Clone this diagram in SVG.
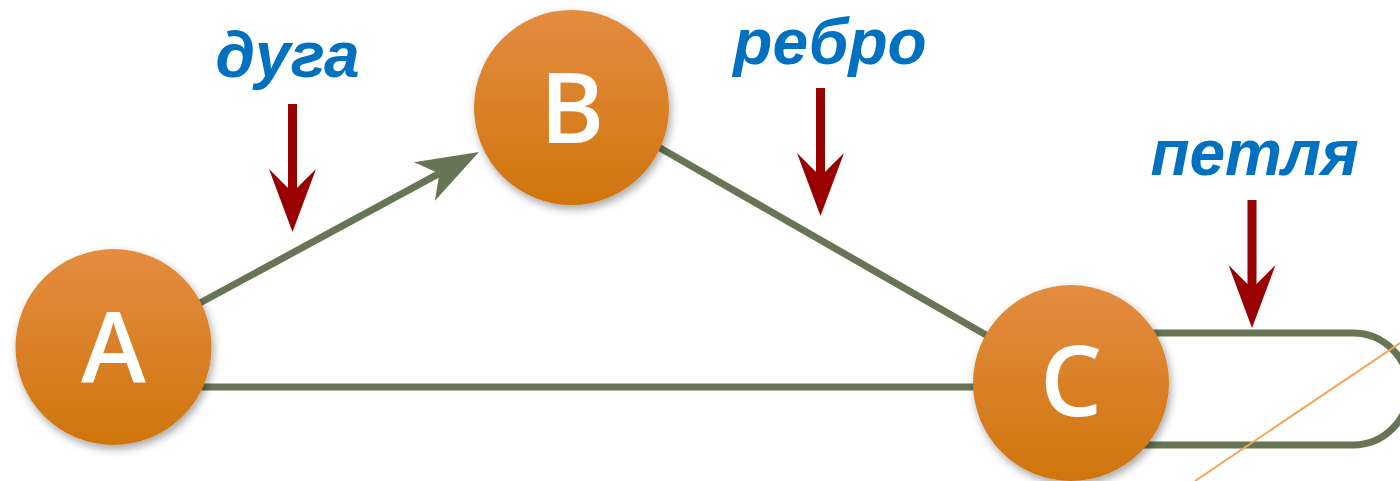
<svg xmlns="http://www.w3.org/2000/svg" width="1400" height="481" viewBox="0 0 1400 481">
  <style>
    .edge { fill: none; stroke: #667553; stroke-width: 7; }
    .node-c { fill: url(#orangeGrad); filter: url(#shadow); }
    .node-t { font-family: "Open Sans", "Liberation Sans", sans-serif; font-weight: 600; font-size: 98px; fill: #ffffff; text-anchor: middle; }
    .lbl { font-family: "Liberation Sans", Arial, sans-serif; font-weight: bold; font-style: italic; font-size: 64px; fill: #0070c0; text-anchor: middle; }
    .red { fill: #990000; }
  </style>
  <defs>
    <linearGradient id="orangeGrad" x1="0" y1="0" x2="0" y2="1">
      <stop offset="0" stop-color="#e48c40"/>
      <stop offset="1" stop-color="#cf750e"/>
    </linearGradient>
    <filter id="shadow" x="-20%" y="-20%" width="150%" height="150%">
      <feDropShadow dx="2" dy="4" stdDeviation="4" flood-color="#000" flood-opacity="0.35"/>
    </filter>
    <marker id="arrowG" viewBox="0 -22 62 44" refX="17" refY="0" markerWidth="62" markerHeight="44" markerUnits="userSpaceOnUse" orient="auto">
      <path d="M62,0 L0,-22 L17,0 L0,22 Z" fill="#667553"/>
    </marker>
    <path id="downArrow" d="M-4.5,0 H4.5 V84 L23.5,65 L0,128 L-23.5,65 L-4.5,84 Z"/>
  </defs>
  <rect width="1400" height="481" fill="#ffffff"/>

  <g id="connectors">
    <line class="edge" x1="150" y1="330" x2="439.4" y2="173.4" marker-end="url(#arrowG)"/>
    <line class="edge" x1="640" y1="136.5" x2="1000" y2="343"/>
    <line class="edge" x1="150" y1="387" x2="1000" y2="387"/>
    <path class="edge" d="M1120,333 H1353 A56,56 0 0 1 1353,445 H1120"/>
  </g>

  <line x1="1195" y1="481" x2="1400" y2="343" stroke="#f2a556" stroke-width="2"/>

  <g id="node-A">
    <circle class="node-c" cx="113.5" cy="347" r="98"/>
    <text class="node-t" x="113.5" y="382">A</text>
  </g>
  <g id="node-B">
    <circle class="node-c" cx="571.5" cy="107.5" r="97.5"/>
    <text class="node-t" x="572" y="143">B</text>
  </g>
  <g id="node-C">
    <circle class="node-c" cx="1071" cy="383" r="98"/>
    <text class="node-t" x="1071" y="416">C</text>
  </g>

  <g id="annotations">
    <text class="lbl" x="287.5" y="77">дуга</text>
    <text class="lbl" x="830" y="64">ребро</text>
    <text class="lbl" x="1254.5" y="175">петля</text>
    <use href="#downArrow" class="red" x="292.5" y="104"/>
    <use href="#downArrow" class="red" x="820.5" y="88"/>
    <use href="#downArrow" class="red" x="1252" y="200"/>
  </g>
</svg>
